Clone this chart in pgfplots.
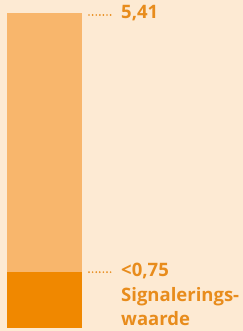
\documentclass[border=0pt]{standalone}
\usepackage{pgfplots}
\pgfplotsset{compat=1.18}
\usepackage{fontspec}
\setmainfont{Open Sans}
\definecolor{bgc}{RGB}{253,234,211}
\definecolor{lightbar}{RGB}{248,182,108}
\definecolor{darkbar}{RGB}{240,136,0}
\definecolor{txt}{RGB}{232,140,28}
\begin{document}
\begin{tikzpicture}
\fill[bgc] (0,0) rectangle (243bp,331bp);
\useasboundingbox (0,0) rectangle (243bp,331bp);
\begin{axis}[
  at={(7bp,3bp)}, anchor=south west,
  scale only axis, width=75bp, height=315bp,
  hide axis, clip=false,
  xmin=0, xmax=1, ymin=0, ymax=5.41,
  y coord trafo/.code={\pgfmathparse{(#1<=0.75) ? #1*1.28 : 0.96+(#1-0.75)*0.954936}},
  y coord inv trafo/.code={\pgfmathparse{(#1<=0.96) ? #1/1.28 : 0.75+(#1-0.96)/0.954936}},
  ybar, bar width=75bp, bar shift=0pt,
]
\addplot[fill=lightbar, draw=none] coordinates {(0.5,5.41)};
\addplot[fill=darkbar, draw=none] coordinates {(0.5,0.75)};
\draw[txt, line width=1.9bp, line cap=round, dash pattern=on 0bp off 3.6bp]
  ([xshift=7bp,yshift=-2bp]axis cs:1,5.41) -- ++(24bp,0);
\node[anchor=west, inner sep=0pt, text=txt, font=\bfseries\fontsize{18.5bp}{24.5bp}\selectfont]
  at ([xshift=39bp,yshift=0bp]axis cs:1,5.41) {5,41};
\draw[txt, line width=1.9bp, line cap=round, dash pattern=on 0bp off 3.6bp]
  ([xshift=7bp,yshift=0bp]axis cs:1,0.75) -- ++(24bp,0);
\node[anchor=north west, inner sep=0pt, text=txt, align=left, font=\bfseries\fontsize{18.5bp}{24.5bp}\selectfont]
  at ([xshift=39bp,yshift=12.5bp]axis cs:1,0.75) {\strut<0,75\\Signalerings-\\waarde};
\end{axis}
\end{tikzpicture}
\end{document}
